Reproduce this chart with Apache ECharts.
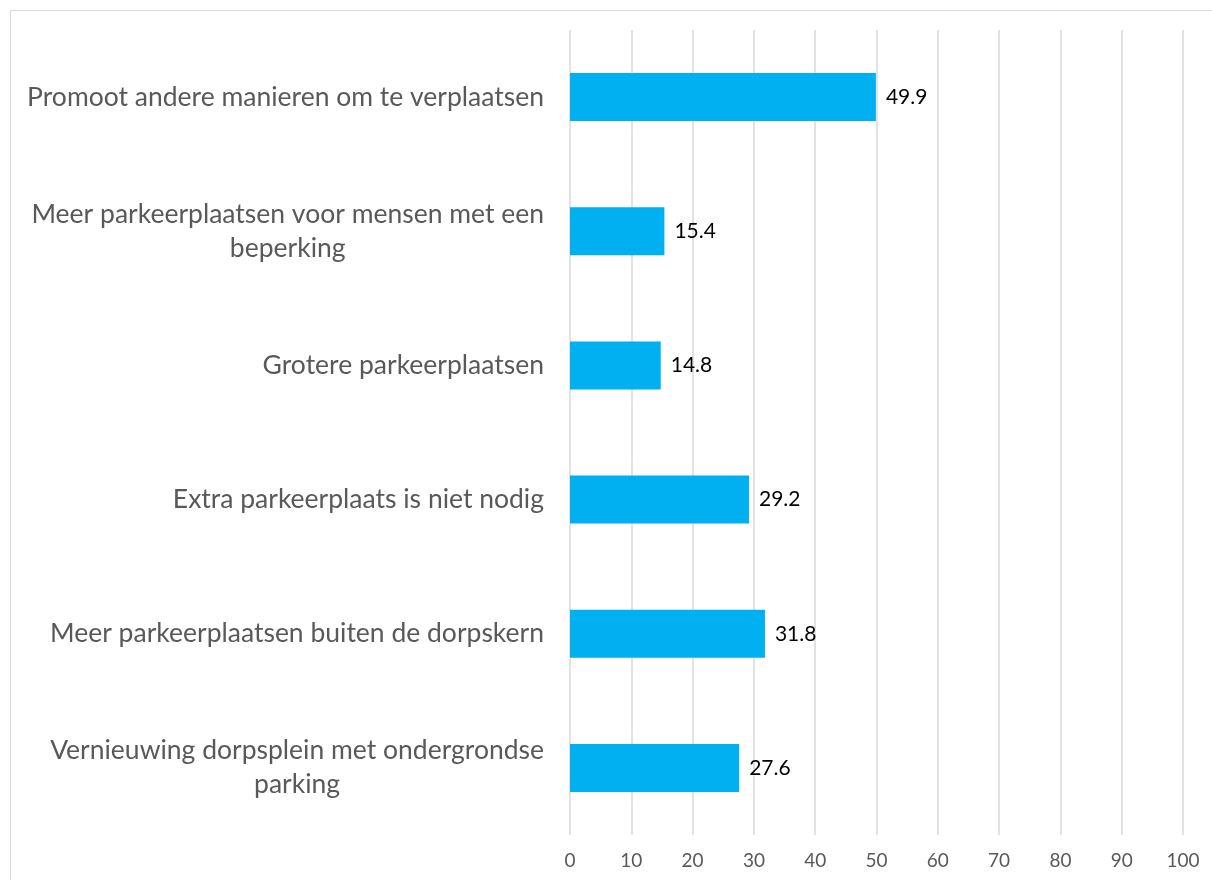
<!DOCTYPE html>
<html>
<head>
<meta charset="utf-8">
<script src="https://cdn.jsdelivr.net/npm/echarts@6/dist/echarts.min.js"></script>
<style>
  html, body { margin: 0; padding: 0; background: #fff; }
  #chart { width: 1212px; height: 880px; }
</style>
</head>
<body>
<div id="chart"></div>
<script>
(function () {
  // data
  var categories = [
    "Promoot andere manieren om te verplaatsen",
    "Meer parkeerplaatsen voor mensen met een\nbeperking",
    "Grotere parkeerplaatsen",
    "Extra parkeerplaats is niet nodig",
    "Meer parkeerplaatsen buiten de dorpskern",
    "Vernieuwing dorpsplein met ondergrondse\nparking"
  ];
  var values = [49.9, 15.4, 14.8, 29.2, 31.8, 27.6];
  var xTicks = { min: 0, max: 100, interval: 10 };

  var myChart = echarts.init(document.getElementById("chart"));
  var font = "Lato";

  var option = {
    animation: false,
    textStyle: { fontFamily: font },
    // light frame round the chart
    graphic: [
      {
        type: "rect",
        shape: { x: 10.5, y: 10.5, width: 1400, height: 1000 },
        style: { fill: "none", stroke: "#d9d9d9", lineWidth: 1 }
      }
    ],
    grid: {
      left: 570,
      right: 29,
      top: 30,
      bottom: 45,
      containLabel: false
    },
    xAxis: {
      type: "value",
      min: xTicks.min,
      max: xTicks.max,
      interval: xTicks.interval,
      axisLine: { show: false },
      axisTick: { show: false },
      axisLabel: {
        color: "#595959",
        fontSize: 19,
        fontFamily: font,
        margin: 16
      },
      splitLine: {
        show: true,
        lineStyle: { color: "#d9d9d9", width: 1.5 }
      }
    },
    yAxis: {
      type: "category",
      inverse: true,
      data: categories,
      axisLine: { show: false },
      axisTick: { show: false },
      splitLine: { show: false },
      axisLabel: {
        color: "#595959",
        fontSize: 26.5,
        fontFamily: font,
        margin: 26,
        lineHeight: 34,
        formatter: function (v) {
          return v.split("\n").map(function (s) { return "{c|" + s + "}"; }).join("\n");
        },
        rich: {
          c: {
            color: "#595959",
            fontSize: 26.5,
            fontFamily: font,
            lineHeight: 34,
            align: "center"
          }
        }
      }
    },
    series: [
      {
        type: "bar",
        data: values,
        barWidth: 48,
        itemStyle: { color: "#00B0F0" },
        label: {
          show: true,
          position: "right",
          distance: 10,
          color: "#000",
          fontSize: 21,
          fontFamily: font
        }
      }
    ]
  };

  myChart.setOption(option);
  window.addEventListener("resize", function () {
    myChart.resize();
  });
})();
</script>
</body>
</html>
